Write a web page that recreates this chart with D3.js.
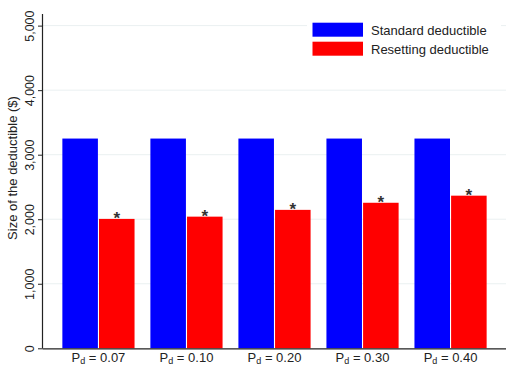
<!DOCTYPE html>
<html>
<head>
<meta charset="utf-8">
<script src="https://cdn.jsdelivr.net/npm/d3@7"></script>
<style>
  html, body { margin: 0; padding: 0; background: #fff; }
  svg { display: block; font-family: Arial, "Liberation Sans", sans-serif; }
</style>
</head>
<body>
<svg id="chart" width="507" height="366"></svg>
<script>
// Deductible levels by disability probability
const categories = ["0.07", "0.10", "0.20", "0.30", "0.40"];
const standardDeductible = [3250, 3250, 3250, 3250, 3250];
const resettingDeductible = [2005, 2040, 2145, 2255, 2365];
const significant = [true, true, true, true, true];
const seriesNames = ["Standard deductible", "Resetting deductible"];
const seriesColors = ["#0000ff", "#ff0000"];
const yTicks = [0, 1000, 2000, 3000, 4000, 5000];

(function () {
const svg = d3.select("#chart");
const mLeft = 43, mRight = 506, mTop = 14, mBottom = 348.3;

const x0 = d3.scaleBand().domain(categories).range([mLeft, mRight])
  .paddingInner(0.18).paddingOuter(0.22);
const x1 = d3.scaleBand().domain([0, 1]).range([0, x0.bandwidth()]).paddingInner(0.03);
const y = d3.scaleLinear().domain([0, 5180]).range([mBottom, mTop]);

// Gridlines
svg.append("g").selectAll("line").data(yTicks.filter(d => d > 0)).join("line")
  .attr("x1", mLeft).attr("x2", mRight)
  .attr("y1", d => y(d)).attr("y2", d => y(d))
  .attr("stroke", "#eaf0f1").attr("stroke-width", 1);

// Bars
const rows = categories.map((c, i) => ({ c, vals: [standardDeductible[i], resettingDeductible[i]], sig: significant[i] }));
const groups = svg.append("g").selectAll("g").data(rows).join("g")
  .attr("transform", d => `translate(${x0(d.c)},0)`);
groups.selectAll("rect").data(d => d.vals.map((v, k) => ({ v, k }))).join("rect")
  .attr("x", d => x1(d.k)).attr("width", x1.bandwidth())
  .attr("y", d => y(d.v)).attr("height", d => y(0) - y(d.v))
  .attr("fill", d => seriesColors[d.k]);

// Significance stars
groups.filter(d => d.sig).append("text")
  .attr("x", x1(1) + x1.bandwidth() / 2)
  .attr("y", d => y(d.vals[1]) + 5)
  .attr("text-anchor", "middle")
  .attr("font-size", 17).attr("font-weight", "bold").attr("fill", "#333")
  .text("*");

// Y axis
const yAxis = d3.axisLeft(y).tickValues(yTicks).tickSize(5).tickFormat(d3.format(","));
const gy = svg.append("g").attr("transform", `translate(${mLeft},0)`).call(yAxis);
gy.select(".domain").attr("d", `M-0.5,${mTop}V${mBottom}`).attr("stroke", "#222").attr("stroke-width", 1.2);
gy.selectAll(".tick line").attr("stroke", "#222");
gy.selectAll(".tick text")
  .attr("x", null).attr("dy", null)
  .attr("transform", "translate(-9,0) rotate(-90)")
  .attr("text-anchor", "middle")
  .attr("font-size", 12.5).attr("fill", "#222");

// X axis line
svg.append("line").attr("x1", mLeft).attr("x2", mRight)
  .attr("y1", mBottom + 0.5).attr("y2", mBottom + 0.5)
  .attr("stroke", "#222").attr("stroke-width", 1.2);

// X labels with subscript
const xl = svg.append("g").selectAll("text").data(categories).join("text")
  .attr("x", d => x0(d) + x0.bandwidth() / 2)
  .attr("y", 362)
  .attr("text-anchor", "middle")
  .attr("font-size", 13).attr("fill", "#222");
xl.append("tspan").text("P");
xl.append("tspan").attr("font-size", 9).attr("dy", 2).text("d");
xl.append("tspan").attr("dy", -2).text(d => " = " + d);

// Y title
svg.append("text")
  .attr("transform", "translate(17,168) rotate(-90)")
  .attr("text-anchor", "middle")
  .attr("font-size", 13).attr("fill", "#222")
  .text("Size of the deductible ($)");

// Legend
const lg = svg.append("g");
lg.append("rect").attr("x", 307).attr("y", 16).attr("width", 194).attr("height", 44).attr("fill", "#fff");
seriesNames.forEach((name, i) => {
  lg.append("rect").attr("x", 312.5).attr("y", 22.7 + i * 19)
    .attr("width", 50.5).attr("height", 14).attr("fill", seriesColors[i]);
  lg.append("text").attr("x", 371).attr("y", 34.5 + i * 19)
    .attr("font-size", 13).attr("fill", "#222").text(name);
});
})();
</script>
</body>
</html>
